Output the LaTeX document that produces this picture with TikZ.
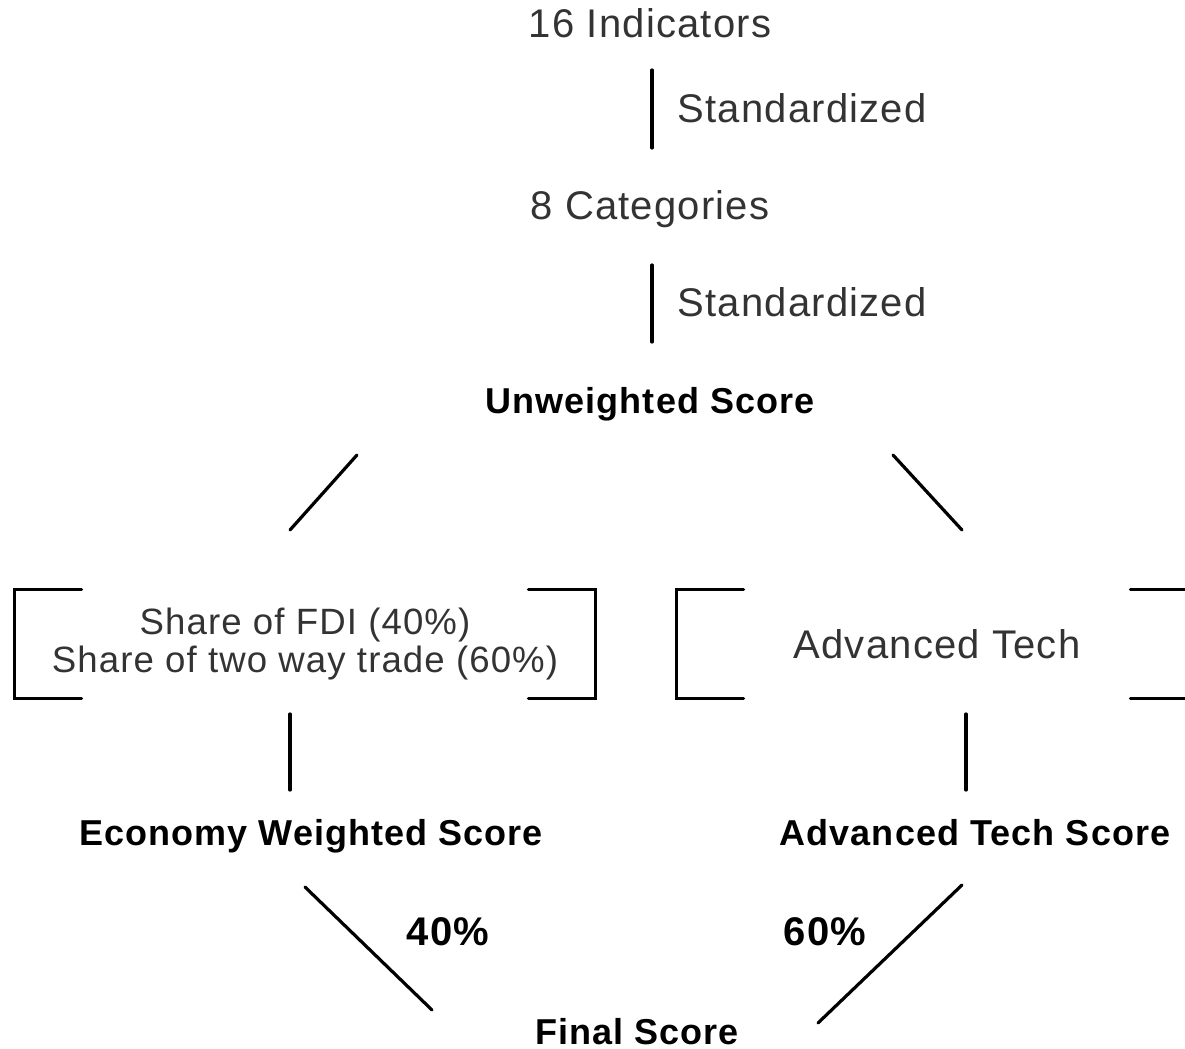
\documentclass[tikz,border=0pt]{standalone}
\usepackage{fontspec}
\setmainfont{Liberation Sans}[LetterSpace=3]
\usetikzlibrary{positioning}

% bracket pair drawn round a named box
\newcommand{\brackets}[1]{%
  \draw[link] (#1.north west) ++(67,0) -- (#1.north west) -- (#1.south west) -- ++(67,0);
  \draw[link] (#1.north east) ++(-67,0) -- (#1.north east) -- (#1.south east) -- ++(-67,0);}

\begin{document}
\begin{tikzpicture}[x=0.5pt, y=-0.5pt,
  txt/.style={font=\fontsize{20}{24}\selectfont, text=black!80, inner sep=0pt},
  head/.style={font=\fontsize{18}{22}\selectfont\bfseries, inner sep=0pt, anchor=base},
  pct/.style={font=\fontsize{20}{24}\selectfont\bfseries, inner sep=0pt, anchor=base},
  wbox/.style={minimum width=#1, minimum height=54pt, inner sep=0pt,
               align=center, text=black!80},
  link/.style={line width=1.6pt, line cap=round}
]
  \useasboundingbox (0,0) rectangle (1185,1049);

  \node[txt]  (ind) at (650,23)  {16 Indicators};
  \node[txt]  (cat) at (650,209) {8 Categories};
  \node[head] (unw) at (650,413) {Unweighted Score};

  \node[wbox=290pt, font=\fontsize{18.3}{19}\selectfont] (econbox) at (305,644)
    {Share of FDI (40\%)\\Share of two way trade (60\%)};
  \node[wbox=260pt, font=\fontsize{20}{24}\selectfont] (techbox) at (937,644)
    {Advanced Tech};

  \node[head] (econ)  at (311,845)  {Economy Weighted Score};
  \node[head] (tech)  at (975,845)  {Advanced Tech Score};
  \node[head] (final) at (637,1044) {Final Score};

  \brackets{econbox}
  \brackets{techbox}

  % end points of the free lines
  \coordinate (ul) at (357,455);  \coordinate (el) at (290,530);
  \coordinate (ur) at (893,455);  \coordinate (er) at (962,530);
  \coordinate (ea) at (290,714);  \coordinate (eb) at (290,790);
  \coordinate (ta) at (966,714);  \coordinate (tb) at (966,790);
  \coordinate (fa) at (305,887);  \coordinate (fb) at (432,1010);
  \coordinate (ga) at (962,885);  \coordinate (gb) at (818,1023);

  \draw[link, shorten <=23.5pt, shorten >=30.5pt] ([xshift=1pt]ind.center) -- ([xshift=1pt]cat.center)
    node[pos=0.46, txt, anchor=west, xshift=12pt] (std1) {Standardized};
  \draw[link, shorten <=28pt, shorten >=29pt] ([xshift=1pt]cat.center) -- ([xshift=1pt]unw.base |- 0,400)
    node[pos=0.49, txt, anchor=west, xshift=12pt] (std2) {Standardized};

  \draw[link] (ul) -- (el);
  \draw[link] (ur) -- (er);
  \draw[link] (ea) -- (eb);
  \draw[link] (ta) -- (tb);
  \draw[link] (fa) -- (fb);
  \draw[link] (ga) -- (gb);

  \node[pct] (w40) at (448,945) {40\%};
  \node[pct] (w60) at (825,945) {60\%};
\end{tikzpicture}
\end{document}
